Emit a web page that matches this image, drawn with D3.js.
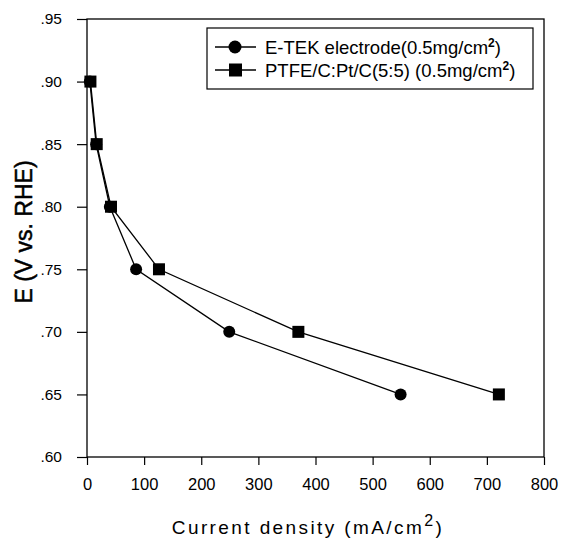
<!DOCTYPE html>
<html>
<head>
<meta charset="utf-8">
<script src="https://cdn.jsdelivr.net/npm/d3@7"></script>
<style>
  html, body { margin: 0; padding: 0; background: #fff; }
  svg { display: block; font-family: "Liberation Sans", Arial, sans-serif; }
</style>
</head>
<body>
<svg id="chart" width="568" height="540"></svg>
<script>
// ---- data ----
const seriesNames = ["E-TEK electrode(0.5mg/cm", "PTFE/C:Pt/C(5:5) (0.5mg/cm"];
const etekCurrent = [5, 16, 40, 86, 249, 549];
const etekE       = [0.90, 0.85, 0.80, 0.75, 0.70, 0.65];
const ptfeCurrent = [6, 17, 42, 126, 370, 721];
const ptfeE       = [0.90, 0.85, 0.80, 0.75, 0.70, 0.65];
const xTicks = [0, 100, 200, 300, 400, 500, 600, 700, 800];
const yTicks = [0.60, 0.65, 0.70, 0.75, 0.80, 0.85, 0.90, 0.95];

const svg = d3.select("#chart");
const L = 87, R = 544, T = 19, B = 457;

const x = d3.scaleLinear().domain([0, 800]).range([L, R]);
const y = d3.scaleLinear().domain([0.60, 0.95]).range([B, T]);

// frame
svg.append("rect").attr("x", L).attr("y", T).attr("width", R - L).attr("height", B - T)
  .attr("fill", "none").attr("stroke", "#000").attr("stroke-width", 1.3);

// x axis
const xAxis = svg.append("g").attr("transform", `translate(0,${B})`)
  .call(d3.axisBottom(x).tickValues(xTicks).tickSize(8).tickPadding(13).tickFormat(d3.format("d")));
xAxis.select(".domain").remove();
xAxis.selectAll("line").attr("stroke", "#000").attr("stroke-width", 1.2);
xAxis.selectAll("text").attr("font-size", 16.5).attr("fill", "#000")
  .attr("font-family", "Liberation Sans, Arial, sans-serif");

// y axis
const yAxis = svg.append("g").attr("transform", `translate(${L},0)`)
  .call(d3.axisLeft(y).tickValues(yTicks).tickSize(10).tickPadding(15)
    .tickFormat(d => d3.format(".2f")(d).replace(/^0/, "")));
yAxis.select(".domain").remove();
yAxis.selectAll("line").attr("stroke", "#000").attr("stroke-width", 1.2);
yAxis.selectAll("text").attr("font-size", 15.5).attr("fill", "#000")
  .attr("font-family", "Liberation Sans, Arial, sans-serif");

// axis titles
svg.append("text").attr("transform", "translate(32,232) rotate(-90)")
  .attr("text-anchor", "middle").attr("font-size", 23).attr("fill", "#000")
  .attr("stroke", "#000").attr("stroke-width", 0.5)
  .text("E (V vs. RHE)");

const xt = svg.append("text").attr("x", 308).attr("y", 534)
  .attr("text-anchor", "middle").attr("font-size", 19).attr("letter-spacing", 2.4).attr("fill", "#000");
xt.append("tspan").text("Current density (mA/cm");
xt.append("tspan").attr("dy", -8).attr("font-size", 16).text("2");
xt.append("tspan").attr("dy", 8).text(")");

// series
const etek = etekCurrent.map((c, i) => ({c, e: etekE[i]}));
const ptfe = ptfeCurrent.map((c, i) => ({c, e: ptfeE[i]}));
const line = d3.line().x(d => x(d.c)).y(d => y(d.e));

svg.append("path").datum(etek).attr("d", line).attr("fill", "none").attr("stroke", "#000").attr("stroke-width", 1.3);
svg.append("path").datum(ptfe).attr("d", line).attr("fill", "none").attr("stroke", "#000").attr("stroke-width", 1.3);

svg.selectAll(".circ").data(etek).enter().append("circle")
  .attr("cx", d => x(d.c)).attr("cy", d => y(d.e)).attr("r", 6).attr("fill", "#000");
svg.selectAll(".sq").data(ptfe).enter().append("rect")
  .attr("x", d => x(d.c) - 6).attr("y", d => y(d.e) - 6).attr("width", 12).attr("height", 12).attr("fill", "#000");

// legend
const lg = svg.append("g");
lg.append("rect").attr("x", 207).attr("y", 28).attr("width", 326).attr("height", 61)
  .attr("fill", "#fff").attr("stroke", "#000").attr("stroke-width", 1.2);
const rows = [47, 70];
rows.forEach((ry, i) => {
  lg.append("line").attr("x1", 215).attr("x2", 256).attr("y1", ry).attr("y2", ry)
    .attr("stroke", "#000").attr("stroke-width", 1.3);
  if (i === 0) {
    lg.append("circle").attr("cx", 235).attr("cy", ry).attr("r", 6.5).attr("fill", "#000");
  } else {
    lg.append("rect").attr("x", 229).attr("y", ry - 6.5).attr("width", 13).attr("height", 13).attr("fill", "#000");
  }
  const t = lg.append("text").attr("x", 265).attr("y", ry + 6.5).attr("font-size", 18.5).attr("fill", "#000");
  t.append("tspan").text(seriesNames[i]);
  t.append("tspan").attr("dy", -7).attr("font-size", 12).attr("font-weight", "bold").text("2");
  t.append("tspan").attr("dy", 7).text(")");
});
</script>
</body>
</html>
